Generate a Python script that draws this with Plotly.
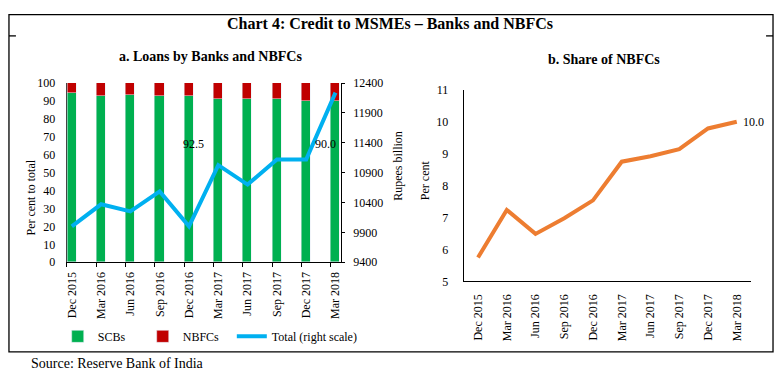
import plotly.graph_objects as go

W, H = 779, 379

categories = ["Dec 2015", "Mar 2016", "Jun 2016", "Sep 2016", "Dec 2016",
              "Mar 2017", "Jun 2017", "Sep 2017", "Dec 2017", "Mar 2018"]
scbs = [94.3, 92.8, 93.5, 93.0, 92.5, 91.3, 91.1, 90.9, 90.2, 90.0]
nbfcs = [5.7, 7.2, 6.5, 7.0, 7.5, 8.7, 8.9, 9.1, 9.8, 10.0]
total = [10000, 10370, 10250, 10585, 10000, 11025, 10700, 11120, 11120, 12240]
nbfc_share = [5.75, 7.24, 6.49, 6.98, 7.54, 8.75, 8.92, 9.14, 9.79, 10.0]

left_ticks = [0, 10, 20, 30, 40, 50, 60, 70, 80, 90, 100]
right_ticks = [9400, 9900, 10400, 10900, 11400, 11900, 12400]
share_ticks = [5, 6, 7, 8, 9, 10, 11]

idx = list(range(len(categories)))
SERIF = "Liberation Serif, Times New Roman, serif"


def px(x):
    return x / W


def py(y):
    return 1 - y / H


fig = go.Figure()
fig.add_trace(go.Bar(x=idx, y=scbs, name="SCBs", marker_color="#00B050",
                     width=0.31, xaxis="x", yaxis="y", legend="legend"))
fig.add_trace(go.Bar(x=idx, y=nbfcs, name="NBFCs", marker_color="#C00000",
                     width=0.31, xaxis="x", yaxis="y", legend="legend"))
fig.add_trace(go.Scatter(x=idx, y=total, name="Total (right scale)", mode="lines",
                         line=dict(color="#00B0F0", width=4), xaxis="x", yaxis="y2",
                         legend="legend2"))
fig.add_trace(go.Scatter(x=idx, y=nbfc_share, mode="lines", showlegend=False,
                         line=dict(color="#ED7D31", width=4), xaxis="x2", yaxis="y3"))

tickfont = dict(family=SERIF, size=12, color="black")
legfont = dict(family=SERIF, size=12, color="black")

fig.update_layout(
    autosize=True, margin=dict(l=0, r=0, t=0, b=0),
    paper_bgcolor="white", plot_bgcolor="rgba(0,0,0,0)",
    barmode="stack", bargap=0,
    font=dict(family=SERIF, color="black"),
    xaxis=dict(domain=[px(65), px(340.5)], range=[-0.175, 9.18],
               tickvals=idx, ticktext=categories, tickangle=-90, ticks="",
               minor=dict(ticks="outside", tick0=-0.165, dtick=1, ticklen=4,
                          tickcolor="black"),
               showline=True, linecolor="black", linewidth=1,
               showgrid=False, zeroline=False, tickfont=tickfont,
               ticklabelstandoff=4, anchor="y"),
    yaxis=dict(domain=[py(265), py(79)], range=[0, 100], tickvals=left_ticks,
               showline=True, linecolor="#444", linewidth=1, ticks="",
               showgrid=False, zeroline=False, tickfont=tickfont,
               ticklabelstandoff=8, anchor="x"),
    yaxis2=dict(overlaying="y", side="right", range=[9400, 12400],
                tickvals=right_ticks, tickformat="d", showline=True, linecolor="black",
                linewidth=1, ticks="outside", ticklen=3, tickcolor="black",
                showgrid=False, zeroline=False, tickfont=tickfont,
                ticklabelstandoff=6, anchor="x"),
    xaxis2=dict(domain=[px(464), px(753)], range=[-0.5, 9.5],
                tickvals=idx, ticktext=categories, tickangle=-90, ticks="",
                showline=True, linecolor="black", linewidth=1,
                showgrid=False, zeroline=False, tickfont=tickfont,
                ticklabelstandoff=7, anchor="y3"),
    yaxis3=dict(domain=[py(285), py(86)], range=[5, 11], tickvals=share_ticks,
                showline=True, linecolor="black", linewidth=1, ticks="",
                showgrid=False, zeroline=False, tickfont=tickfont,
                ticklabelstandoff=12, anchor="x2"),
    legend=dict(orientation="h", x=px(56), y=py(342), xanchor="left",
                yanchor="middle", font=legfont,
                entrywidth=40, entrywidthmode="pixels", tracegroupgap=0,
                bgcolor="rgba(0,0,0,0)", traceorder="normal"),
    legend2=dict(orientation="h", x=px(231), y=py(342), xanchor="left",
                 yanchor="middle", font=legfont, bgcolor="rgba(0,0,0,0)"),
    showlegend=True,
)

annotations = [
    dict(text="<b>Chart 4: Credit to MSMEs – Banks and NBFCs</b>", x=px(390), y=py(17),
         font=dict(size=16)),
    dict(text="<b>a. Loans by Banks and NBFCs</b>", x=px(210), y=py(51),
         font=dict(size=14)),
    dict(text="<b>b. Share of NBFCs</b>", x=px(605), y=py(55),
         font=dict(size=14)),
    dict(text="Per cent to total", x=px(29), y=py(198), textangle=-90,
         font=dict(size=12)),
    dict(text="Rupees billion", x=px(398), y=py(165), textangle=-90,
         font=dict(size=12)),
    dict(text="Per cent", x=px(426), y=py(180), textangle=-90,
         font=dict(size=12)),
    dict(text="Source: Reserve Bank of India", x=px(27), y=py(370), xanchor="left",
         font=dict(size=14)),
]
for a in annotations:
    a.update(xref="paper", yref="paper", showarrow=False,
             font=dict(family=SERIF, color="black", size=a["font"]["size"]))
    if "xanchor" not in a:
        a["xanchor"] = "center"
    a["yanchor"] = "middle"
    fig.add_annotation(**a)

# data labels
fig.add_annotation(x=4, y=66, xref="x", yref="y", text=f"{scbs[4]:.1f}",
                   showarrow=False, xshift=5, font=dict(family=SERIF, size=12, color="black"))
fig.add_annotation(x=9, y=66, xref="x", yref="y", text=f"{scbs[9]:.1f}",
                   showarrow=False, xshift=-10, font=dict(family=SERIF, size=12, color="black"))
fig.add_annotation(x=9, y=nbfc_share[9], xref="x2", yref="y3", text=f"{nbfc_share[9]:.1f}",
                   showarrow=False, xanchor="left", xshift=4,
                   font=dict(family=SERIF, size=12, color="black"))

# frame
line = dict(color="black", width=1.3)
fig.add_shape(type="rect", xref="paper", yref="paper", x0=px(7), x1=px(775),
              y0=py(358), y1=py(8), line=line)
fig.add_shape(type="line", xref="paper", yref="paper", x0=px(7), x1=px(14),
              y0=py(30), y1=py(30), line=line)
fig.add_shape(type="line", xref="paper", yref="paper", x0=px(768), x1=px(775),
              y0=py(30), y1=py(30), line=line)

fig.write_html("out.html",
               config={"displayModeBar": False},
               default_width=f"{W}px",
               default_height=f"{H}px; position:fixed; top:0; left:0",
               post_script="document.body.style.margin='0';document.body.style.overflow='hidden';")
